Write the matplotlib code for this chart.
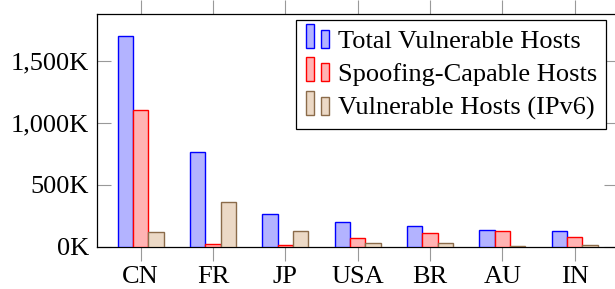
import matplotlib
matplotlib.use("Agg")
import matplotlib.pyplot as plt
import numpy as np
from matplotlib.legend_handler import HandlerBase
from matplotlib.patches import Rectangle
from matplotlib.ticker import FuncFormatter

plt.rcParams['font.family'] = ['Liberation Serif', 'DejaVu Serif']
plt.rcParams['font.size'] = 19

countries = ["CN", "FR", "JP", "USA", "BR", "AU", "IN"]
total_vuln = [1700, 760, 261, 197, 164, 133, 128]
spoofing = [1100, 20, 10, 70, 109, 125, 82]
vuln_ipv6 = [117, 363, 124, 27, 27, 3, 10]
series_labels = ["Total Vulnerable Hosts", "Spoofing-Capable Hosts", "Vulnerable Hosts (IPv6)"]

fills = ["#b3b3ff", "#ffb3b3", "#ecd9c6"]
edges = ["#0000ff", "#ff0000", "#8b6b4a"]

fig = plt.figure(figsize=(6.15, 2.89), dpi=100)
ax = fig.add_axes([97.3/615, 42.3/289, (618-97.3)/615, (246.7-14.3)/289])

x = np.arange(len(countries))
w = 0.212
handles = []
for i, (vals, lab) in enumerate(zip([total_vuln, spoofing, vuln_ipv6], series_labels)):
    b = ax.bar(x + (i - 1) * w, vals, width=w, color=fills[i], edgecolor=edges[i],
               linewidth=1.0, label=lab, zorder=3)
    handles.append(b)

ax.set_xlim(-0.6, 6.6)
ax.set_ylim(0, 1874)
ax.set_xticks(x)
ax.set_xticklabels(countries)
ax.set_yticks([0, 500, 1000, 1500])
ax.yaxis.set_major_formatter(FuncFormatter(lambda v, p: f"{int(v):,}K"))

ax.tick_params(axis='x', direction='out', length=10, color='#999999', width=0.8,
               top=True, bottom=True, pad=4)
ax.tick_params(axis='y', direction='in', length=10, color='#999999', width=0.8,
               left=True, right=True, pad=6)
for s in ax.spines.values():
    s.set_linewidth(0.9)
    s.set_color('black')


class DoubleBarHandler(HandlerBase):
    def create_artists(self, legend, orig_handle, xdescent, ydescent, width, height, fontsize, trans):
        patch = orig_handle.patches[0]
        fc = patch.get_facecolor()
        ec = patch.get_edgecolor()
        bw = width * 0.35
        r1 = Rectangle((-xdescent, -ydescent), bw, height * 1.3,
                       facecolor=fc, edgecolor=ec, linewidth=1.0, transform=trans)
        r2 = Rectangle((-xdescent + width * 0.63, -ydescent), bw, height * 0.97,
                       facecolor=fc, edgecolor=ec, linewidth=1.0, transform=trans)
        return [r1, r2]


leg = ax.legend(handles, series_labels, handler_map={type(handles[0]): DoubleBarHandler()},
                loc='upper right', bbox_to_anchor=(606/615, 1 - 20/289), bbox_transform=fig.transFigure,
                frameon=True, fancybox=False, edgecolor='black', framealpha=1,
                handlelength=0.91, handletextpad=0.3, borderpad=0.35, labelspacing=0.38,
                borderaxespad=0)
leg.get_frame().set_linewidth(0.9)

fig.savefig("out.png", dpi=100)
